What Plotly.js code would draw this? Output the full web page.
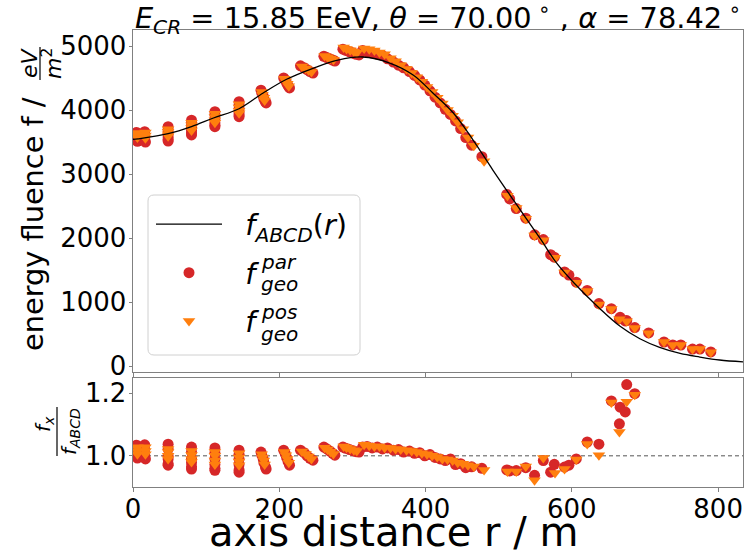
<!DOCTYPE html>
<html>
<head>
<meta charset="utf-8">
<script src="https://cdn.plot.ly/plotly-3.0.1.min.js"></script>
<style>html,body{margin:0;padding:0;background:#fff;}#chart{width:748px;height:554px;}</style>
</head>
<body>
<div id="chart"></div>
<script>
// ---- fitted ABCD curve ----
const curveR = [0,7,48,80,110,145,178,210,247,280,314,351,383,410,438,465,492,520,558,579,603,638,666,693,720,748,775,802,834];
const curveF = [3540,3550,3630,3740,3875,4020,4266,4480,4656,4780,4828,4734,4547,4266,3953,3531,3062,2594,1969,1610,1297,900,620,425,290,196,140,94,65];

// ---- f_geo^par (red circles) ----
const parR = [5,5,5,6,16,16,16,17,
  48,48,48,48,48,48,
  80,80,80,80,80,80,
  112,112,112,112,112,112,
  145,145,145,145,145,145,
  175,176,178,179,181,182,
  206,208,210,212,214,
  229,234,238,242,246,
  261,265,269,273,276,
  287,291,296,301,305,309,
  314,320,327,334,341,348,356,363,370,378,385,392,399,406,413,420,427,434,441,448,455,463,477,
  511,515,524,537,549,561,571,576,590,596,606,621,637,654,665,666,673,675,686,705,726,738,749,765,775,790];
const parF = [3650,3600,3560,3510,3660,3610,3550,3500,
  3740,3690,3630,3580,3540,3515,
  3840,3790,3730,3680,3640,3610,
  3973,3920,3860,3800,3760,3740,
  4130,4080,4020,3960,3920,3896,
  4310,4270,4220,4170,4130,4110,
  4500,4470,4420,4380,4345,
  4690,4660,4630,4600,4578,
  4840,4820,4800,4780,4765,
  4950,4930,4910,4890,4870,4860,
  4930,4910,4890,4870,4850,4800,4750,4700,4660,4600,4540,4470,4390,4300,4200,4110,4010,3930,3830,3710,3570,3450,3270,
  2680,2610,2460,2310,2050,1975,1740,1700,1470,1420,1310,1180,975,895,740,760,705,710,600,516,375,330,328,265,265,220];
const parQ = [1.034,1.02,1.005,0.993,1.035,1.02,1.003,0.99,
  1.037,1.022,1.0,0.99,0.975,0.97,
  1.028,1.012,0.99,0.978,0.965,0.958,
  1.025,1.01,0.99,0.972,0.96,0.954,
  1.018,1.005,0.99,0.972,0.955,0.948,
  1.012,1.003,0.99,0.978,0.965,0.958,
  1.018,1.008,0.995,0.982,0.97,
  1.018,1.01,1.0,0.992,0.986,
  1.028,1.022,1.015,1.008,1.002,
  1.028,1.024,1.02,1.016,1.013,1.012,
  1.028,1.03,1.025,1.028,1.022,1.025,1.018,1.02,1.012,1.015,1.008,1.01,1.0,1.004,0.995,0.99,0.985,0.99,0.972,0.975,0.962,0.965,0.96,
  0.955,0.952,0.953,0.962,0.938,0.985,0.948,0.973,0.964,0.97,0.99,1.044,1.037,1.175,1.102,1.155,1.14,1.227,1.198,null,null,null,null,null,null,null];

// ---- f_geo^pos (orange triangles) ----
const posR = [6,6,6,17,17,17,
  48,48,48,48,
  80,80,80,80,
  112,112,112,112,
  145,145,145,145,
  176,177,179,180,
  207,209,211,213,
  231,236,240,244,
  262,266,270,274,
  288,292,297,302,306,
  316,323,330,337,344,352,359,366,374,381,388,395,402,409,416,423,430,437,444,451,458,466,480,
  512,524,537,549,561,577,590,606,621,637,654,665,675,686,705,726,738,749,765,775,790];
const posF = [3640,3600,3570,3650,3600,3560,
  3700,3660,3620,3590,
  3800,3760,3720,3680,
  3940,3890,3840,3800,
  4090,4040,3990,3950,
  4280,4240,4190,4150,
  4490,4450,4410,4370,
  4680,4650,4620,4595,
  4845,4825,4805,4785,
  4975,4955,4935,4915,4895,
  4960,4950,4930,4900,4870,4810,4760,4700,4640,4580,4510,4440,4360,4280,4190,4100,4000,3910,3810,3700,3570,3440,3200,
  2660,2470,2300,2040,1965,1690,1460,1300,1170,960,890,730,700,595,510,375,330,328,265,265,215];
const posQ = [1.027,1.015,1.005,1.027,1.015,1.005,
  1.022,1.012,1.0,0.99,
  1.015,1.003,0.99,0.98,
  1.012,1.0,0.985,0.972,
  1.008,0.995,0.982,0.97,
  1.005,0.995,0.985,0.972,
  1.012,1.002,0.99,0.978,
  1.014,1.006,0.998,0.99,
  1.026,1.02,1.013,1.006,
  1.03,1.026,1.022,1.018,1.015,
  1.035,1.032,1.03,1.03,1.026,1.025,1.022,1.02,1.018,1.015,1.012,1.008,1.005,1.0,0.996,0.99,0.988,0.985,0.978,0.975,0.97,0.966,0.955,
  0.95,0.95,0.966,0.922,0.993,0.945,0.958,0.988,1.038,1.002,1.17,1.076,1.172,1.195,null,null,null,null,null,null,null];

const yTicksTop = [0,1000,2000,3000,4000,5000];
const yTicksBot = [1.0,1.2];
const xTicks = [0,200,400,600,800];

const RED = '#d62728', ORANGE = '#ff7f0e';
const FONT = 'DejaVu Sans, sans-serif';
const NB = '\u00a0\u00a0';

// paper conversion helpers (plot area: x 133..743, y 30..487)
const PX = p => (p - 133) / 610;
const PY = p => (487 - p) / 457;

const traces = [
  {x: parR, y: parF, type: 'scatter', mode: 'markers', xaxis: 'x', yaxis: 'y',
   marker: {color: RED, size: 11, symbol: 'circle', line: {width: 0}},
   name: NB + '<i>f</i>', legendrank: 2, legendgroup: 'b'},
  {x: posR, y: posF, type: 'scatter', mode: 'markers', xaxis: 'x', yaxis: 'y',
   marker: {color: ORANGE, size: 11, symbol: 'triangle-down', line: {width: 0}},
   name: NB + '<i>f</i>' + '\u00a0', legendrank: 3, legendgroup: 'c'},
  {x: curveR, y: curveF, type: 'scatter', mode: 'lines', xaxis: 'x', yaxis: 'y',
   line: {color: '#000', width: 1.3, shape: 'spline', smoothing: 1},
   name: NB + '<i>f</i><sub><i>ABCD</i></sub>(<i>r</i>)', legendrank: 1, legendgroup: 'a'},
  {x: parR, y: parQ, type: 'scatter', mode: 'markers', xaxis: 'x2', yaxis: 'y2',
   marker: {color: RED, size: 11, symbol: 'circle', line: {width: 0}}, showlegend: false},
  {x: posR, y: posQ, type: 'scatter', mode: 'markers', xaxis: 'x2', yaxis: 'y2',
   marker: {color: ORANGE, size: 11, symbol: 'triangle-down', line: {width: 0}}, showlegend: false}
];

const axisCommon = {
  showline: true, mirror: true, linecolor: '#808080', linewidth: 1,
  ticks: 'outside', ticklen: 3.5, tickcolor: '#808080', tickwidth: 1,
  showgrid: false, zeroline: false,
  tickfont: {size: 26, color: '#000', family: FONT}
};

// rounded legend frame (paper coords)
function roundRect(x0, y0, x1, y1, rx) {
  const X0 = PX(x0), X1 = PX(x1), Y0 = PY(y0), Y1 = PY(y1);
  const dx = rx / 610, dy = rx / 457;
  return `M${X0 + dx},${Y0} L${X1 - dx},${Y0} Q${X1},${Y0} ${X1},${Y0 - dy} L${X1},${Y1 + dy} Q${X1},${Y1} ${X1 - dx},${Y1} L${X0 + dx},${Y1} Q${X0},${Y1} ${X0},${Y1 + dy} L${X0},${Y0 - dy} Q${X0},${Y0} ${X0 + dx},${Y0} Z`;
}

const lab = (text, x, y, size, extra) => Object.assign({text, xref: 'paper', yref: 'paper', x: PX(x), y: PY(y),
  showarrow: false, font: {size, family: FONT, color: '#000'}, xanchor: 'center', yanchor: 'middle'}, extra || {});

const layout = {
  width: 748, height: 554,
  margin: {l: 133, r: 5, t: 30, b: 67},
  paper_bgcolor: '#fff', plot_bgcolor: '#fff',
  font: {family: FONT, color: '#000'},
  title: {
    text: '<i>E</i><sub><i>CR</i></sub> = 15.85 EeV, <i>θ</i> = 70.00<sup> ∘</sup> , <i>α</i> = 78.42<sup> ∘</sup>',
    font: {size: 28.8, family: FONT, color: '#000'},
    x: 0.5, xref: 'paper', xanchor: 'center', y: 1 - 18/554, yref: 'container', yanchor: 'middle'
  },
  xaxis: Object.assign({}, axisCommon, {domain: [0, 1], range: [0, 834], tickvals: xTicks, showticklabels: false, matches: 'x2', anchor: 'y'}),
  yaxis: Object.assign({}, axisCommon, {domain: [0.2516, 1], range: [-94, 5250], tickvals: yTicksTop, anchor: 'x', ticklabelstandoff: -3}),
  xaxis2: Object.assign({}, axisCommon, {domain: [0, 1], range: [0, 834], tickvals: xTicks, anchor: 'y2', ticklabelstandoff: -5}),
  yaxis2: Object.assign({}, axisCommon, {domain: [0, 0.2385], range: [0.9006, 1.248], tickvals: yTicksBot, tickformat: '.1f', anchor: 'x2', ticklabelstandoff: -3}),
  showlegend: true,
  legend: {
    x: PX(151), y: PY(199), xanchor: 'left', yanchor: 'top',
    bgcolor: 'rgba(0,0,0,0)', borderwidth: 0,
    font: {size: 28.8, family: FONT, color: '#000'}, itemwidth: 66,
    traceorder: 'grouped', tracegroupgap: 8
  },
  shapes: [
    {type: 'path', xref: 'paper', yref: 'paper', path: roundRect(148, 195, 360, 355, 6),
     fillcolor: 'rgba(255,255,255,0.8)', line: {color: '#d0d0d0', width: 1}, layer: 'above'},
    {type: 'line', xref: 'x2 domain', x0: 0, x1: 1, yref: 'y2', y0: 1, y1: 1,
     line: {color: '#555', width: 1, dash: '4px,3px'}, layer: 'below'},
    {type: 'line', xref: 'paper', yref: 'paper', x0: PX(40), x1: PX(40), y0: PY(47), y1: PY(80),
     line: {color: '#000', width: 1.2}},
    {type: 'line', xref: 'paper', yref: 'paper', x0: PX(57), x1: PX(57), y0: PY(407), y1: PY(456),
     line: {color: '#000', width: 1.2}}
  ],
  annotations: [
    lab('energy fluence f /', 33, 224, 28.8, {textangle: -90}),
    lab('<i>eV</i>', 29, 63, 22, {textangle: -90}),
    lab('<i>m</i><sup>2</sup>', 52, 64, 22, {textangle: -90}),
    lab('<i>f</i><sub><i>x</i></sub>', 44, 424, 20, {textangle: -90}),
    lab('<i>f</i><sub><i>ABCD</i></sub>', 70, 432, 20, {textangle: -90}),
    lab('axis distance r / m', 393, 532, 40),
    lab('<i>par</i>', 259, 262, 20, {xanchor: 'left'}),
    lab('<i>geo</i>', 259, 284, 20, {xanchor: 'left'}),
    lab('<i>pos</i>', 259, 312, 20, {xanchor: 'left'}),
    lab('<i>geo</i>', 259, 334, 20, {xanchor: 'left'})
  ]
};

Plotly.newPlot('chart', traces, layout, {displayModeBar: false, staticPlot: true});
</script>
</body>
</html>
